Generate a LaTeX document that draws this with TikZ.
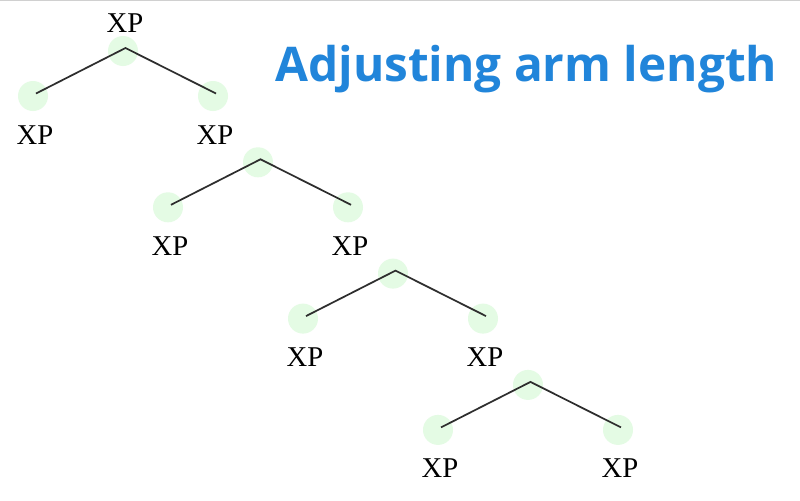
\documentclass[tikz,border=0pt]{standalone}
\usepackage{fontspec}
\setmainfont{Liberation Serif}
\newfontfamily\titlefont{Open Sans}
\usetikzlibrary{calc}
\definecolor{titleblue}{HTML}{2185DA}
\definecolor{dotgreen}{HTML}{E4FBE4}
\definecolor{armgray}{HTML}{2E2E2E}
\definecolor{bordergray}{HTML}{D0D0D0}
\tikzset{
  dot/.style={circle, fill=dotgreen, draw=none, minimum size=22.5pt, inner sep=0pt},
  arm/.style={draw=armgray, line width=1.3pt},
  xplabel/.style={anchor=base, inner sep=0pt, font=\fontsize{21.5}{21.5}\selectfont},
  titletext/.style={anchor=base west, inner sep=0pt, text=titleblue}
}
\begin{document}
\begin{tikzpicture}[x=0.75pt, y=-0.75pt]
\useasboundingbox (0,0) rectangle (800,500);
\fill[white] (0,0) rectangle (800,500);
\draw[bordergray, line width=1.2pt] (0,0.5) -- (800,0.5);
\foreach \k in {0,1,2,3} {
  \pgfmathsetmacro{\rx}{123+135*\k}
  \pgfmathsetmacro{\ry}{51+111.3*\k}
  \node[dot] (r\k) at (\rx,\ry) {};
  \node[dot] (l\k) at (\rx-90,\ry+45) {};
  \node[dot] (c\k) at (\rx+90,\ry+45) {};
  \draw[arm] ([shift={(3,-2.5)}]l\k.center) -- ([shift={(2.5,-3)}]r\k.center) -- ([shift={(3,-2.5)}]c\k.center);
  \node[xplabel] (ll\k) at ($(l\k.center)+(2,48)$) {XP};
  \node[xplabel] (cl\k) at ($(c\k.center)+(2,48)$) {XP};
}
\node[xplabel] (rl0) at ($(r0.center)+(2,-19)$) {XP};
\node[titletext] (title) at (275,81) {\resizebox{376.5pt}{!}{\titlefont\bfseries Adjusting arm length}};
\end{tikzpicture}
\end{document}
